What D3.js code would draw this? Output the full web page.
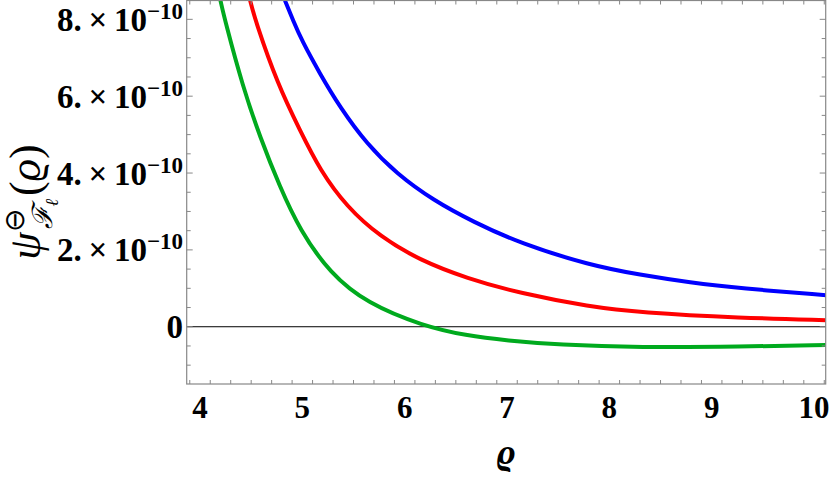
<!DOCTYPE html>
<html>
<head>
  <meta charset="utf-8">
  <style>
    body {
      margin: 0;
      background: #ffffff;
    }
  </style>
</head>
<body>
  <div id="chart"></div>

  <script src="https://d3js.org/d3.v7.min.js"></script>
  <script>
    // values, y in units of 1e-10
    var greenRho = [4.20, 4.244, 4.42, 4.586, 4.78, 4.977, 5.27, 5.63, 6.18, 6.6, 7.0, 7.5, 8.3, 9.28, 10.12];
    var greenVal = [8.49, 7.97, 6.23, 4.94, 3.64, 2.51, 1.39, 0.61, 0.02, -0.23, -0.36, -0.47, -0.54, -0.52, -0.475];

    var redRho = [4.49, 4.54, 4.76, 4.977, 5.173, 5.434, 5.76, 6.15, 6.606, 7.127, 7.81, 8.30, 9.28, 10.12];
    var redVal = [8.49, 7.97, 6.30, 5.11, 4.07, 3.12, 2.34, 1.73, 1.26, 0.87, 0.52, 0.37, 0.23, 0.17];

    var blueRho = [4.83, 4.91, 4.994, 5.173, 5.368, 5.629, 5.922, 6.28, 6.67, 7.127, 7.81, 8.30, 8.79, 9.28, 10.12];
    var blueVal = [8.49, 7.97, 7.45, 6.58, 5.71, 4.76, 3.98, 3.29, 2.73, 2.17, 1.60, 1.35, 1.15, 1.0, 0.82];

    var xTicks = [4, 5, 6, 7, 8, 9, 10];
    var yTicks = [0, 2, 4, 6, 8];
    var yTickMantissa = ["0", "2.", "4.", "6.", "8."];

    var serif = "'Liberation Serif', Tinos, 'Times New Roman', serif";

    var width = 830,
        height = 478,
        pLeft = 186.7,
        pRight = 825.7,
        pTop = 0.5,
        pBottom = 384;

    var svg = d3.select("#chart")
      .append("svg")
      .attr("width", width)
      .attr("height", height)
      .style("font-family", serif);

    var x = d3.scaleLinear().domain([3.87, 10.114]).range([pLeft, pRight]);
    var y = d3.scaleLinear().domain([-1.49, 8.49]).range([pBottom, pTop]);

    svg.append("clipPath").attr("id", "clip")
      .append("rect")
      .attr("x", pLeft).attr("y", pTop)
      .attr("width", pRight - pLeft).attr("height", pBottom - pTop);

    // zero line
    svg.append("line")
      .attr("x1", pLeft).attr("x2", pRight)
      .attr("y1", y(0)).attr("y2", y(0))
      .attr("stroke", "#000").attr("stroke-width", 1);

    var line = d3.line()
      .x(function (d) { return x(d[0]); })
      .y(function (d) { return y(d[1]); })
      .curve(d3.curveBasis);

    var series = [
      { rho: blueRho, val: blueVal, color: "#0000ff" },
      { rho: redRho, val: redVal, color: "#ff0000" },
      { rho: greenRho, val: greenVal, color: "#00aa1e" }
    ];

    svg.append("g")
      .attr("clip-path", "url(#clip)")
      .selectAll("path")
      .data(series)
      .enter().append("path")
      .attr("d", function (s) { return line(d3.zip(s.rho, s.val)); })
      .attr("fill", "none")
      .attr("stroke", function (s) { return s.color; })
      .attr("stroke-width", 4);

    // frame with ticks
    var frameColor = "#888";
    var frame = svg.append("g");
    frame.append("rect")
      .attr("x", pLeft).attr("y", pTop)
      .attr("width", pRight - pLeft).attr("height", pBottom - pTop)
      .attr("fill", "none").attr("stroke", frameColor).attr("stroke-width", 1.2);

    var xMinor = d3.range(39, 102, 2).map(function (d) { return d / 10; })
      .filter(function (d) { return d >= 3.87 && d <= 10.114; });
    var yMinor = d3.range(-1.5, 8.51, 0.5).filter(function (d) { return d >= -1.49 && d <= 8.49; });

    xMinor.forEach(function (v) {
      var major = Math.abs(v - Math.round(v)) < 1e-6;
      var len = major ? 6 : 4;
      frame.append("line")
        .attr("x1", x(v)).attr("x2", x(v))
        .attr("y1", pBottom).attr("y2", pBottom - len)
        .attr("stroke", frameColor);
      frame.append("line")
        .attr("x1", x(v)).attr("x2", x(v))
        .attr("y1", pTop).attr("y2", pTop + len)
        .attr("stroke", frameColor);
    });

    yMinor.forEach(function (v) {
      var major = Math.abs(v / 2 - Math.round(v / 2)) < 1e-6;
      var len = major ? 6 : 4;
      frame.append("line")
        .attr("x1", pLeft).attr("x2", pLeft + len)
        .attr("y1", y(v)).attr("y2", y(v))
        .attr("stroke", frameColor);
      frame.append("line")
        .attr("x1", pRight).attr("x2", pRight - len)
        .attr("y1", y(v)).attr("y2", y(v))
        .attr("stroke", frameColor);
    });

    // x tick labels
    svg.append("g")
      .selectAll("text")
      .data(xTicks)
      .enter().append("text")
      .attr("x", function (d) { return x(d); })
      .attr("y", 418)
      .attr("text-anchor", "middle")
      .attr("font-weight", "bold")
      .attr("font-size", 31)
      .text(function (d) { return d; });

    // y tick labels
    var yl = svg.append("g")
      .selectAll("text")
      .data(yTicks)
      .enter().append("text")
      .attr("x", 183)
      .attr("y", function (d) { return y(d) + 11.5; })
      .attr("text-anchor", "end")
      .attr("font-weight", "bold")
      .attr("font-size", 33);

    yl.each(function (d, i) {
      var t = d3.select(this);
      if (d === 0) {
        t.text("0");
        return;
      }
      t.append("tspan").text(yTickMantissa[i] + "\u2009\u00d7\u200910");
      t.append("tspan")
        .attr("dy", -12)
        .attr("font-size", 23)
        .text("\u221210");
    });

    // axis titles
    svg.append("text")
      .attr("x", (pLeft + pRight) / 2)
      .attr("y", 464)
      .attr("text-anchor", "middle")
      .attr("font-style", "italic")
      .attr("font-weight", "bold")
      .attr("font-size", 36)
      .text("\u03f1");

    var yt = svg.append("text")
      .attr("transform", "translate(40,202) rotate(-90)")
      .attr("text-anchor", "middle")
      .attr("font-style", "italic")
      .attr("font-size", 44);
    yt.append("tspan").text("\u03c8");
    yt.append("tspan").attr("dy", -16).attr("font-size", 28).attr("font-style", "normal").text("\u2296");
    yt.append("tspan").attr("dx", -20).attr("dy", 28).attr("font-size", 28).text("\u2131");
    yt.append("tspan").attr("dy", 6).attr("font-size", 18).text("\u2113");
    yt.append("tspan").attr("dx", 3).attr("dy", -18).attr("font-style", "normal").text("(");
    yt.append("tspan").text("\u03f1");
    yt.append("tspan").attr("font-style", "normal").text(")");
  </script>
</body>
</html>
